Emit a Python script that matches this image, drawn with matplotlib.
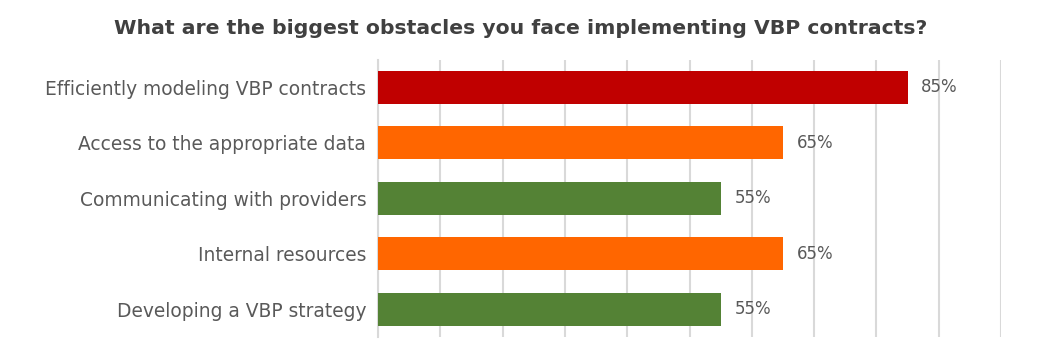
import matplotlib.pyplot as plt

categories = [
    "Efficiently modeling VBP contracts",
    "Access to the appropriate data",
    "Communicating with providers",
    "Internal resources",
    "Developing a VBP strategy",
]
values = [85, 65, 55, 65, 55]
colors = ["#C00000", "#FF6600", "#548235", "#FF6600", "#548235"]

plt.rcParams["font.family"] = ["DejaVu Sans"]

fig = plt.figure(figsize=(10.55, 3.52), dpi=100)
ax = fig.add_axes([378 / 1055, 15 / 352, 623 / 1055, 277.5 / 352])

pos = list(range(len(categories)))
ax.barh(pos, values, height=0.6, color=colors, zorder=3)
ax.set_ylim(len(categories) - 0.5, -0.5)
ax.set_xlim(0, 100)

for p, v in zip(pos, values):
    ax.text(v + 2.2, p, f"{v}%", va="center", ha="left", fontsize=12, color="#595959")

ax.set_yticks(pos)
ax.set_yticklabels(categories, fontsize=13.4, color="#595959")
ax.tick_params(axis="y", length=0, pad=8.5)
ax.set_xticks(range(0, 101, 10))
ax.tick_params(axis="x", length=0, labelbottom=False)
ax.grid(axis="x", color="#D9D9D9", linewidth=1.5, zorder=0)

for s in ["top", "right", "bottom"]:
    ax.spines[s].set_visible(False)
ax.spines["left"].set_color("#D9D9D9")
ax.spines["left"].set_linewidth(1.5)

fig.text(0.494, 0.92, "What are the biggest obstacles you face implementing VBP contracts?",
         ha="center", va="center", fontsize=14.7, fontweight="bold", color="#404040")

fig.savefig("out.png", dpi=100)
